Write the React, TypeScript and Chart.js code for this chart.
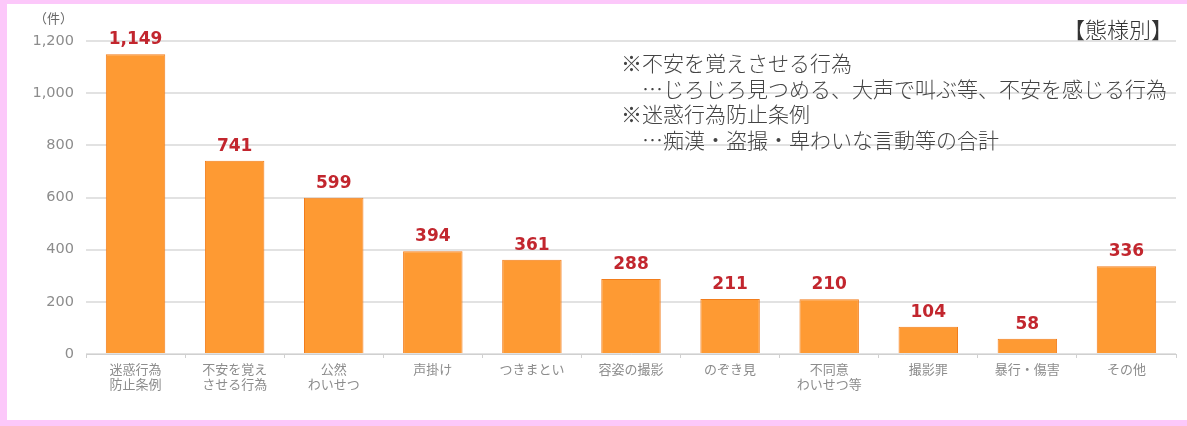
import React, { useEffect, useRef } from "react";
import { Chart, registerables } from "chart.js";

Chart.register(...registerables);

const categories: string[][] = [
  ["迷惑行為", "防止条例"],
  ["不安を覚え", "させる行為"],
  ["公然", "わいせつ"],
  ["声掛け"],
  ["つきまとい"],
  ["容姿の撮影"],
  ["のぞき見"],
  ["不同意", "わいせつ等"],
  ["撮影罪"],
  ["暴行・傷害"],
  ["その他"],
];
const counts: number[] = [1149, 741, 599, 394, 361, 288, 211, 210, 104, 58, 336];
const yTicks: number[] = [0, 200, 400, 600, 800, 1000, 1200];
const unitLabel = "（件）";
const titleLabel = "【態様別】";
const noteLines: string[] = [
  "※不安を覚えさせる行為",
  "　…じろじろ見つめる、大声で叫ぶ等、不安を感じる行為",
  "※迷惑行為防止条例",
  "　…痴漢・盗撮・卑わいな言動等の合計",
];

const fmt = (v: number) => v.toLocaleString("en-US");

const valueLabels = {
  id: "valueLabels",
  afterDatasetsDraw(chart: any) {
    const ctx = chart.ctx;
    const meta = chart.getDatasetMeta(0);
    ctx.save();
    ctx.font = "bold 17px 'DejaVu Sans'";
    ctx.fillStyle = "#c2262e";
    ctx.textAlign = "center";
    ctx.textBaseline = "alphabetic";
    meta.data.forEach((bar: any, i: number) => {
      ctx.fillText(fmt(counts[i]), bar.x, bar.y - 10);
    });
    ctx.restore();
  },
};

export default function App() {
  const ref = useRef<HTMLCanvasElement>(null);
  useEffect(() => {
    if (!ref.current) return;
    const chart = new Chart(ref.current, {
      type: "bar",
      data: {
        labels: categories,
        datasets: [
          {
            data: counts,
            backgroundColor: "#fe9a33",
            borderColor: "#f27d1c",
            borderWidth: 1,
            barPercentage: 0.6,
            categoryPercentage: 1,
          },
        ],
      },
      options: {
        animation: false,
        responsive: false,
        maintainAspectRatio: false,
        layout: { padding: { left: 0, top: 41, right: 11, bottom: 0 } },
        plugins: { legend: { display: false }, tooltip: { enabled: false } },
        scales: {
          x: {
            afterFit: (s: any) => {
              s.height = 72;
            },
            grid: {
              drawOnChartArea: false,
              drawTicks: true,
              tickLength: 4,
              color: "#d0d0d0",
              offset: true,
            },
            border: { display: true, color: "#d0d0d0", width: 1 },
            ticks: {
              color: "#8c8c8c",
              padding: 4,
              maxRotation: 0,
              autoSkip: false,
              font: { family: "'Noto Sans CJK JP'", size: 13, lineHeight: 1.15 },
            },
          },
          y: {
            min: 0,
            max: 1200,
            afterFit: (s: any) => {
              s.width = 86;
            },
            afterBuildTicks: (s: any) => {
              s.ticks = yTicks.map((v) => ({ value: v }));
            },
            grid: { color: "#e2e2e2", lineWidth: 2, drawTicks: false },
            border: { display: false },
            ticks: {
              color: "#8c8c8c",
              padding: 12,
              font: { family: "'DejaVu Sans'", size: 14.5 },
              callback: (v: any) => fmt(Number(v)),
            },
          },
        },
      },
      plugins: [valueLabels],
    });
    return () => chart.destroy();
  }, []);

  return (
    <div
      style={{
        position: "fixed",
        left: 0,
        top: 0,
        width: 1187,
        height: 426,
        background: "#fcc8fa",
        overflow: "hidden",
      }}
    >
      <div
        style={{
          position: "absolute",
          left: 7,
          top: 4,
          width: 1200,
          height: 416,
          background: "#ffffff",
        }}
      />
      <canvas
        ref={ref}
        width={1187}
        height={426}
        style={{ position: "absolute", left: 0, top: 0, width: 1187, height: 426 }}
      />
      <div
        style={{
          position: "absolute",
          left: 34,
          top: 9,
          fontFamily: "'Noto Sans CJK JP'",
          fontSize: 13,
          color: "#666",
          lineHeight: "18px",
        }}
      >
        {unitLabel}
      </div>
      <div
        style={{
          position: "absolute",
          right: 14,
          top: 14,
          fontFamily: "'Noto Sans CJK JP'",
          fontSize: 22,
          fontWeight: 300,
          color: "#333",
          lineHeight: "28px",
          whiteSpace: "nowrap",
        }}
      >
        {titleLabel}
      </div>
      <div
        style={{
          position: "absolute",
          left: 621,
          top: 50,
          fontFamily: "'Noto Sans CJK JP'",
          fontSize: 21,
          fontWeight: 300,
          color: "#444",
          lineHeight: "25.7px",
          whiteSpace: "pre",
        }}
      >
        {noteLines.map((l, i) => (
          <div key={i}>{l}</div>
        ))}
      </div>
    </div>
  );
}
